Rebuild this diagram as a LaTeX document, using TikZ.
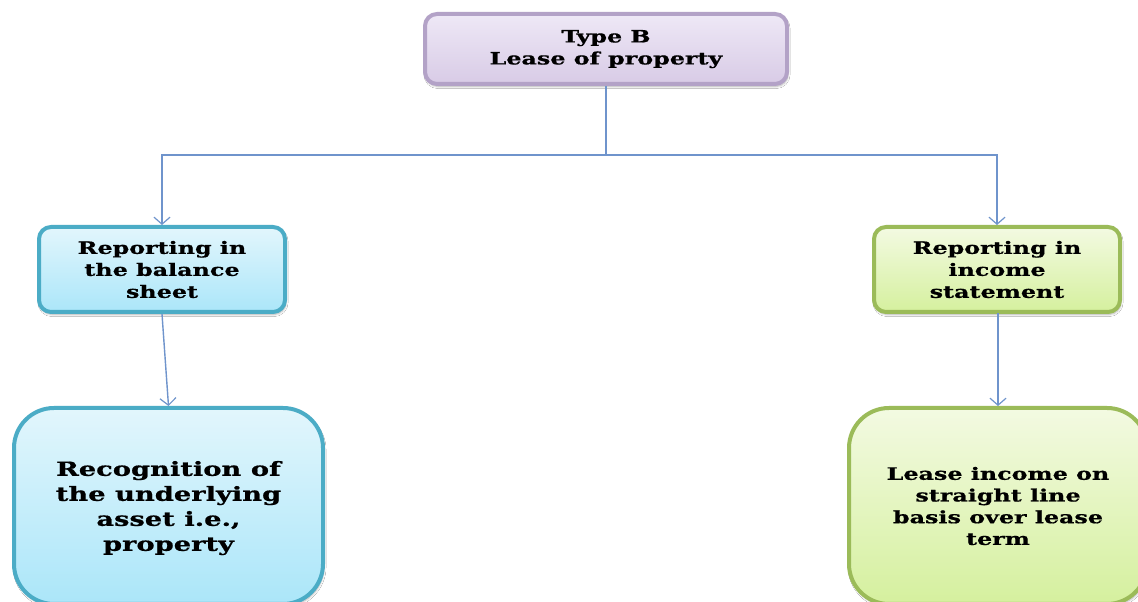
\documentclass[tikz,border=0pt]{standalone}
\usepackage{fontspec}
\setmainfont{DejaVu Serif}
\newfontfamily\boxfont{DejaVu Serif Bold}[FakeStretch=1.40,FakeBold=0.8]
\usetikzlibrary{arrows.meta,shadows.blur}
\definecolor{linkblue}{HTML}{6F94CC}
\definecolor{lavtop}{HTML}{EEE8F6}
\definecolor{lavbot}{HTML}{D8CBE6}
\definecolor{lavline}{HTML}{B3A2C7}
\definecolor{cyantop}{HTML}{E2F6FC}
\definecolor{cyanbot}{HTML}{ABE6F9}
\definecolor{cyanline}{HTML}{4BACC6}
\definecolor{greentop}{HTML}{F3FAE2}
\definecolor{greenbot}{HTML}{D5F09E}
\definecolor{greenline}{HTML}{9BBB59}
\tikzset{
  x=1pt, y=1pt,
  box/.style={draw, line width=4pt, rounded corners=12pt, align=center,
    font=\boxfont\fontsize{17}{22}\selectfont, inner sep=0pt,
    blur shadow={shadow blur steps=6, shadow xshift=1pt, shadow yshift=-2.5pt, shadow opacity=30}},
  lavbox/.style={box, draw=lavline, top color=lavtop, bottom color=lavbot},
  cyanbox/.style={box, draw=cyanline, top color=cyantop, bottom color=cyanbot},
  greenbox/.style={box, draw=greenline, top color=greentop, bottom color=greenbot},
  link/.style={draw=linkblue, line width=1.4pt,
    -{Straight Barb[length=7pt,width=16pt,line width=1.2pt]}},
  plain/.style={draw=linkblue, line width=1.4pt}
}
\begin{document}
\begin{tikzpicture}
\useasboundingbox (0,0) rectangle (1138,602);
\clip (0,0) rectangle (1138,602);
\fill[white] (0,0) rectangle (1138,602);

% top node
\node[lavbox, minimum width=362pt, minimum height=70pt] (top) at (606,553)
  {\raisebox{-2pt}{\begin{tabular}{@{}c@{}}Type B\\Lease of property\end{tabular}}};

% second row
\node[cyanbox, minimum width=246pt, minimum height=85pt] (bal) at (162,332.5)
  {Reporting in\\the balance\\sheet};
\node[greenbox, minimum width=246pt, minimum height=85pt] (inc) at (997,332.5)
  {Reporting in\\income\\statement};

% third row
\node[cyanbox, rounded corners=40pt, minimum width=309pt, minimum height=196pt,
  font=\boxfont\fontsize{19.5}{25}\selectfont] (rec) at (168.5,96)
  {\\[-6pt]Recognition of\\the underlying\\asset i.e.,\\property};
\node[greenbox, rounded corners=40pt, minimum width=298pt, minimum height=196pt,
  font=\boxfont\fontsize{17}{21.7}\selectfont] (lease) at (998,96)
  {Lease income on\\straight line\\basis over lease\\term};

% connectors
\coordinate (split) at (top.south |- 0,447);
\path[plain] (top.south) -- (split);
\path[link] (split) -| (bal.north);
\path[link] (split) -| (inc.north);
\path[link] (bal.south) -- (rec.north);
\path[link] (inc.south) -- (lease.north |- inc.south) -- (lease.north);
\end{tikzpicture}
\end{document}
